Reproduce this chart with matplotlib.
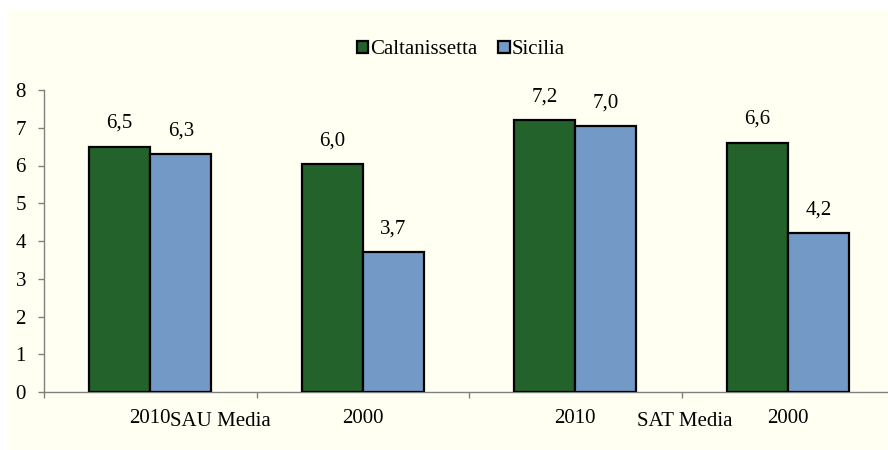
import matplotlib
matplotlib.use("Agg")
import matplotlib.pyplot as plt
import matplotlib.transforms as mtransforms
from matplotlib.patches import Patch, Rectangle

# Data
categories = ["2010", "2000", "2010", "2000"]
group_labels = ["SAU Media", "SAT Media"]
group_label_x = [0.33, 2.515]
series_names = ["Caltanissetta", "Sicilia"]
caltanissetta = [6.5, 6.04, 7.2, 6.6]
sicilia = [6.3, 3.7, 7.04, 4.2]

COLORS = ["#23622A", "#7399C6"]
CREAM = "#FFFFF2"
AXIS_GREY = "#808080"

plt.rcParams["font.family"] = ["Liberation Serif", "DejaVu Serif"]

fig = plt.figure(figsize=(8.88, 4.5), dpi=100)
fig.patch.set_facecolor("white")
fig.add_artist(Rectangle((8 / 888, 0), 1, 440 / 450, transform=fig.transFigure,
                         facecolor=CREAM, edgecolor="none", zorder=0))

ax = fig.add_axes([44 / 888, 58 / 450, 850 / 888, 302 / 450])
ax.set_facecolor("none")

x = list(range(len(categories)))
width = 0.288
for i, (vals, color) in enumerate(zip([caltanissetta, sicilia], COLORS)):
    offs = (i - 0.5) * width
    bars = ax.bar([xi + offs for xi in x], vals, width=width, color=color,
                  edgecolor="black", linewidth=1.6, zorder=3)
    for b, v in zip(bars, vals):
        ax.annotate(f"{v:.1f}".replace(".", ","),
                    (b.get_x() + b.get_width() / 2, v),
                    xytext=(0, 10), textcoords="offset points",
                    ha="center", va="bottom", fontsize=15)

ax.set_xlim(-0.5, len(categories) - 0.5)
ax.set_ylim(0, 8)
ax.set_yticks(range(0, 9))
ax.tick_params(axis="y", direction="out", length=4, width=1, color=AXIS_GREY,
               pad=9, labelsize=15)

ax.set_xticks([i - 0.5 for i in range(len(categories))])
ax.set_xticklabels([])
ax.tick_params(axis="x", which="major", direction="out", length=4, width=1,
               color=AXIS_GREY)
ax.set_xticks(x, minor=True)
ax.set_xticklabels(categories, minor=True, fontsize=15)
ax.tick_params(axis="x", which="minor", length=0, pad=12)

for side in ["top", "right"]:
    ax.spines[side].set_visible(False)
for side in ["left", "bottom"]:
    ax.spines[side].set_color(AXIS_GREY)
    ax.spines[side].set_linewidth(1)

trans = mtransforms.blended_transform_factory(ax.transData, fig.transFigure)
for gx, gl in zip(group_label_x, group_labels):
    ax.text(gx, 1 - 421 / 450, gl, transform=trans, ha="center", va="center",
            fontsize=15)

handles = [Patch(facecolor=c, edgecolor="black", linewidth=1.6) for c in COLORS]
fig.legend(handles, series_names, loc="center",
           bbox_to_anchor=(461 / 888, 1 - 50 / 450), ncol=2, frameon=False,
           fontsize=15, handlelength=0.55, handleheight=0.55, handletextpad=0.1,
           columnspacing=1.0)

fig.savefig("out.png", dpi=100, facecolor=fig.get_facecolor())
